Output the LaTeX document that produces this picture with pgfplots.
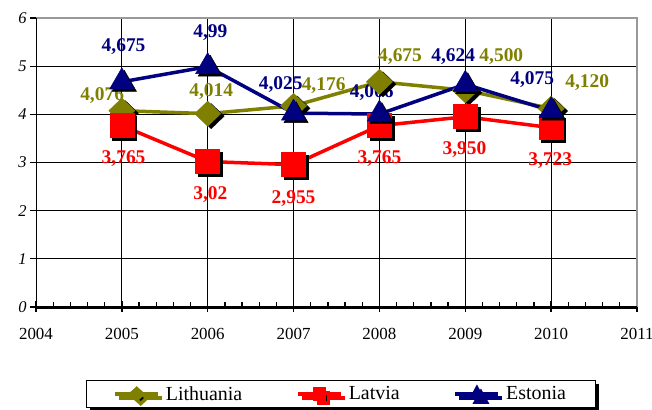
\documentclass[border=0pt]{standalone}
\usepackage{fontspec}
\setmainfont{Liberation Serif}
\usepackage{pgfplots}
\pgfplotsset{compat=1.18}
\usetikzlibrary{shadows}
\definecolor{lit}{RGB}{128,128,0}
\definecolor{lat}{RGB}{255,0,0}
\definecolor{est}{RGB}{0,0,128}
\begin{document}
\begin{tikzpicture}
\useasboundingbox (-36bp,-103bp) rectangle (616bp,307bp);
\begin{axis}[
  scale only axis, width=601bp, height=289bp,
  xmin=2004, xmax=2011, ymin=0, ymax=6,
  xtick={2004,2005,2006,2007,2008,2009,2010,2011},
  ytick={0,1,2,3,4,5,6},
  minor x tick num=4,
  xtick pos=bottom, ytick pos=left,
  xtick align=inside, ytick align=outside,
  major tick length=6bp, minor tick length=5.5bp,
  tick style={black, line width=1.3bp},
  /pgf/number format/assume math mode=true,
  /pgf/number format/set thousands separator={},
  xticklabel shift=18bp,
  xticklabel style={font=\fontsize{17}{17}\selectfont},
  yticklabel style={font=\fontsize{16.5}{16.5}\selectfont\itshape},
  grid=major,
  major grid style={black, line width=0.8bp},
  axis line style={draw=none},
  clip=false,
  legend style={at={(0.507,-0.2526)}, anchor=north, legend columns=3,
    draw=black, line width=0.9bp, font=\fontsize{20}{20}\selectfont,
    /tikz/every odd column/.append style={column sep=4bp},
    /tikz/every even column/.append style={column sep=52bp},
    inner xsep=27bp, inner ysep=4bp,
    drop shadow={shadow xshift=4bp, shadow yshift=-4bp, fill=black, opacity=1}},
]
% Lithuania
\addplot[forget plot, only marks, black, mark=diamond*, mark size=12.5bp,
  mark options={xscale=1.39, xshift=2.5bp, yshift=-2.5bp}]
  coordinates {(2005,4.076) (2006,4.014) (2007,4.176) (2008,4.675) (2009,4.500) (2010,4.120)};
\addplot[lit, line width=3.5bp, mark=diamond*, mark size=12.5bp,
  mark options={xscale=1.39, fill=lit, draw=lit, line width=0.5bp},
  legend image code/.code={
    \draw[lit, line width=3.5bp] (0bp,0bp) -- (43bp,0bp);
    \fill[lit] (21.5bp,5.5bp) -- (27.5bp,0bp) -- (21.5bp,-5.5bp) -- (15.5bp,0bp) -- cycle;
  }]
  coordinates {(2005,4.076) (2006,4.014) (2007,4.176) (2008,4.675) (2009,4.500) (2010,4.120)};
\addlegendentry{Lithuania}
% Latvia
\addplot[forget plot, only marks, black, mark=square*, mark size=12bp,
  mark options={xshift=2.5bp, yshift=-2.5bp}]
  coordinates {(2005,3.765) (2006,3.020) (2007,2.955) (2008,3.765) (2009,3.950) (2010,3.723)};
\addplot[lat, line width=3.5bp, mark=square*, mark size=12bp,
  mark options={fill=lat, draw=lat, line width=0.5bp},
  legend image code/.code={
    \draw[lat, line width=3.5bp] (0bp,0bp) -- (43bp,0bp);
    \fill[lat] (16.5bp,-5bp) rectangle (26.5bp,5bp);
  }]
  coordinates {(2005,3.765) (2006,3.020) (2007,2.955) (2008,3.765) (2009,3.950) (2010,3.723)};
\addlegendentry{Latvia}
% Estonia
\addplot[forget plot, only marks, black, mark=triangle*, mark size=14bp,
  mark options={xshift=2.5bp, yshift=-2.5bp}]
  coordinates {(2005,4.675) (2006,4.990) (2007,4.025) (2008,4.006) (2009,4.624) (2010,4.075)};
\addplot[est, line width=3.5bp, mark=triangle*, mark size=14bp,
  mark options={fill=est, draw=est, line width=0.5bp},
  legend image code/.code={
    \draw[est, line width=3.5bp] (0bp,0bp) -- (43bp,0bp);
    \fill[est] (21.5bp,6bp) -- (27bp,-4bp) -- (16bp,-4bp) -- cycle;
  }]
  coordinates {(2005,4.675) (2006,4.990) (2007,4.025) (2008,4.006) (2009,4.624) (2010,4.075)};
\addlegendentry{Estonia}
% borders
\draw[gray!80, line width=1.2bp] (rel axis cs:0,1) -- (rel axis cs:1,1) -- (rel axis cs:1,0);
\draw[black, line width=1bp] (rel axis cs:0,0) -- (rel axis cs:0,1);
\draw[black, line width=3bp] (rel axis cs:0,0) -- (rel axis cs:1,0);
\draw[black, line width=1.5bp] (axis cs:2004,0) -- (axis cs:2004,-0.105);
\draw[black, line width=1.5bp] (axis cs:2005,0) -- (axis cs:2005,-0.105);
\draw[black, line width=1.5bp] (axis cs:2006,0) -- (axis cs:2006,-0.105);
\draw[black, line width=1.5bp] (axis cs:2007,0) -- (axis cs:2007,-0.105);
\draw[black, line width=1.5bp] (axis cs:2008,0) -- (axis cs:2008,-0.105);
\draw[black, line width=1.5bp] (axis cs:2009,0) -- (axis cs:2009,-0.105);
\draw[black, line width=1.5bp] (axis cs:2010,0) -- (axis cs:2010,-0.105);
\draw[black, line width=1.5bp] (axis cs:2011,0) -- (axis cs:2011,-0.105);
% data labels
\begin{scope}[every node/.style={font=\fontsize{19.5}{19.5}\selectfont\bfseries, inner sep=0pt}]
\node[text=lit] at (axis cs:2004.77,4.40) {4,076};
\node[text=lit] at (axis cs:2006.04,4.48) {4,014};
\node[text=lit] at (axis cs:2007.35,4.59) {4,176};
\node[text=lit] at (axis cs:2008.24,5.19) {4,675};
\node[text=lit] at (axis cs:2009.42,5.19) {4,500};
\node[text=lit] at (axis cs:2010.42,4.67) {4,120};
\node[text=est] at (axis cs:2005.02,5.41) {4,675};
\node[text=est] at (axis cs:2006.03,5.69) {4,99};
\node[text=est] at (axis cs:2006.85,4.61) {4,025};
\node[text=est] at (axis cs:2007.91,4.45) {4,006};
\node[text=est] at (axis cs:2008.86,5.19) {4,624};
\node[text=est] at (axis cs:2009.78,4.73) {4,075};
\node[text=lat] at (axis cs:2005.02,3.08) {3,765};
\node[text=lat] at (axis cs:2006.03,2.33) {3,02};
\node[text=lat] at (axis cs:2007.00,2.25) {2,955};
\node[text=lat] at (axis cs:2008.00,3.08) {3,765};
\node[text=lat] at (axis cs:2008.99,3.26) {3,950};
\node[text=lat] at (axis cs:2009.99,3.05) {3,723};
\end{scope}
\end{axis}
\end{tikzpicture}
\end{document}
